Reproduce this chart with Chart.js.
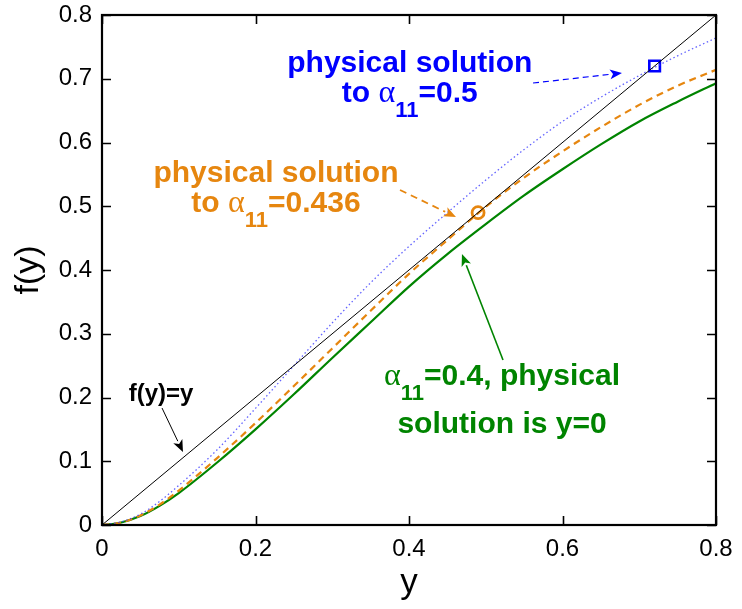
<!DOCTYPE html>
<html>
<head>
<meta charset="utf-8">
<script src="https://cdn.jsdelivr.net/npm/chart.js@4.4.0/dist/chart.umd.min.js"></script>
<style>
  html, body { margin: 0; padding: 0; background: #fff; }
  #wrap { width: 742px; height: 609px; }
</style>
</head>
<body>
<div id="wrap"><canvas id="chart" width="742" height="609"></canvas></div>
<script>
/* ── Data ───────────────────────────────────────────────────── */

const Y_GRID = [0, 0.025, 0.05, 0.075, 0.1, 0.15, 0.2, 0.25, 0.3, 0.35, 0.4, 0.45, 0.5, 0.55, 0.6, 0.65, 0.7, 0.75, 0.8];

/* alpha11 = 0.4 (green, solid) */
const F_A040  = [0, 0.004, 0.014, 0.030, 0.050, 0.098, 0.150, 0.205, 0.262, 0.318, 0.374, 0.425, 0.472, 0.517, 0.558, 0.597, 0.633, 0.664, 0.693];
/* alpha11 = 0.436 (orange, dashed) */
const F_A0436 = [0, 0.004, 0.015, 0.032, 0.054, 0.105, 0.160, 0.218, 0.277, 0.336, 0.394, 0.447, 0.499, 0.545, 0.586, 0.624, 0.659, 0.689, 0.714];
/* alpha11 = 0.5 (blue, dotted) */
const F_A050  = [0, 0.005, 0.017, 0.037, 0.062, 0.118, 0.183, 0.250, 0.317, 0.380, 0.437, 0.490, 0.541, 0.589, 0.633, 0.671, 0.705, 0.736, 0.764];

/* f(y) = y */
const DIAG_X = [0, 0.8];
const DIAG_F = [0, 0.8];

/* fixed points marked on the curves */
const ROOT_0436 = [0.49, 0.49];
const ROOT_050  = [0.72, 0.72];

const X_TICK_LABELS = ['0', '0.2', '0.4', '0.6', '0.8'];
const Y_TICK_LABELS = ['0', '0.1', '0.2', '0.3', '0.4', '0.5', '0.6', '0.7', '0.8'];

/* ── Colours / fonts ────────────────────────────────────────── */
const BLUE   = '#0000ff';
const ORANGE = '#e6860f';
const GREEN  = '#008400';
const SANS   = "'Liberation Sans', Arial, Helvetica, sans-serif";
const SERIF  = "'Liberation Serif', 'Times New Roman', serif";

const pts = (xs, ys) => xs.map((x, i) => ({ x, y: ys[i] }));

/* ── Annotations (data coordinates) ─────────────────────────── */
const NOTES = [
  { color: BLUE,   x: 0.401, lines: [
      { y: 0.7106, parts: [['physical solution', 'b']] },
      { y: 0.6635, parts: [['to ', 'b'], ['\u03b1', 'g'], ['11', 's'], ['=0.5', 'b']] } ] },
  { color: ORANGE, x: 0.2267, lines: [
      { y: 0.538, parts: [['physical solution', 'b']] },
      { y: 0.491, parts: [['to ', 'b'], ['\u03b1', 'g'], ['11', 's'], ['=0.436', 'b']] } ] },
  { color: GREEN,  x: 0.5212, lines: [
      { y: 0.2196, parts: [['\u03b1', 'g'], ['11', 's'], ['=0.4, physical', 'b']] },
      { y: 0.1443, parts: [['solution is y=0', 'b']] } ] },
  { color: '#000', x: 0.0769, lines: [
      { y: 0.1945, parts: [['f(y)=y', 'm']] } ] },
];

const ARROWS = [
  { color: BLUE,   from: [0.5616, 0.6933], to: [0.6775, 0.709], dash: [6, 4], width: 1.2 },
  { color: ORANGE, from: [0.3883, 0.5255], to: [0.4612, 0.4831], dash: [7, 5], width: 1.8 },
  { color: '#000', from: [0.0782, 0.1835], to: [0.1055, 0.1145], dash: [], width: 1 },
  { color: GREEN,  from: [0.5225, 0.2588], to: [0.469, 0.425], dash: [], width: 1.6 },
];

const FONTS = {
  b: { font: `bold 30px ${SANS}`, dy: 0 },
  g: { font: `32px ${SERIF}`, dy: 0 },
  s: { font: `bold 22px ${SANS}`, dy: 15 },
  m: { font: `bold 24px ${SANS}`, dy: 0 },
};

function drawArrow(ctx, x0, y0, x1, y1, a) {
  const ang = Math.atan2(y1 - y0, x1 - x0);
  const head = 12, half = 5;
  const bx = x1 - head * Math.cos(ang), by = y1 - head * Math.sin(ang);
  ctx.save();
  ctx.strokeStyle = a.color;
  ctx.fillStyle = a.color;
  ctx.lineWidth = a.width;
  ctx.setLineDash(a.dash);
  ctx.beginPath();
  ctx.moveTo(x0, y0);
  ctx.lineTo(bx, by);
  ctx.stroke();
  ctx.setLineDash([]);
  ctx.beginPath();
  ctx.moveTo(x1, y1);
  ctx.lineTo(bx + half * Math.sin(ang), by - half * Math.cos(ang));
  ctx.lineTo(x1 - (head - 3) * Math.cos(ang), y1 - (head - 3) * Math.sin(ang));
  ctx.lineTo(bx - half * Math.sin(ang), by + half * Math.cos(ang));
  ctx.closePath();
  ctx.fill();
  ctx.restore();
}

/* ── Frame, inward ticks and annotations ────────────────────── */
const framePlugin = {
  id: 'frame',
  afterDatasetsDraw(chart) {
    const { ctx, chartArea: a, scales: { x, y } } = chart;
    ctx.save();
    ctx.strokeStyle = '#000';
    ctx.lineWidth = 1.6;
    const tl = 9;
    x.ticks.forEach(t => {
      const px = Math.round(x.getPixelForValue(t.value)) + 0.5;
      ctx.beginPath();
      ctx.moveTo(px, a.bottom); ctx.lineTo(px, a.bottom - tl);
      ctx.moveTo(px, a.top);    ctx.lineTo(px, a.top + tl);
      ctx.stroke();
    });
    y.ticks.forEach(t => {
      const py = Math.round(y.getPixelForValue(t.value)) + 0.5;
      ctx.beginPath();
      ctx.moveTo(a.left, py);  ctx.lineTo(a.left + tl, py);
      ctx.moveTo(a.right, py); ctx.lineTo(a.right - tl, py);
      ctx.stroke();
    });
    ctx.lineWidth = 2.2;
    ctx.strokeRect(a.left, a.top, a.right - a.left, a.bottom - a.top);

    ARROWS.forEach(ar => drawArrow(ctx,
      x.getPixelForValue(ar.from[0]), y.getPixelForValue(ar.from[1]),
      x.getPixelForValue(ar.to[0]),   y.getPixelForValue(ar.to[1]), ar));

    ctx.textAlign = 'left';
    ctx.textBaseline = 'alphabetic';
    NOTES.forEach(n => {
      ctx.fillStyle = n.color;
      const cx = x.getPixelForValue(n.x);
      n.lines.forEach(line => {
        const by = y.getPixelForValue(line.y);
        let w = 0;
        line.parts.forEach(([txt, k]) => { ctx.font = FONTS[k].font; w += ctx.measureText(txt).width; });
        let px = cx - w / 2;
        line.parts.forEach(([txt, k]) => {
          ctx.font = FONTS[k].font;
          ctx.fillText(txt, px, by + FONTS[k].dy);
          px += ctx.measureText(txt).width;
        });
      });
    });
    ctx.restore();
  },
};

/* ── Chart ──────────────────────────────────────────────────── */
new Chart(document.getElementById('chart').getContext('2d'), {
  type: 'line',
  data: {
    datasets: [
      { data: pts(DIAG_X, DIAG_F), borderColor: '#000', borderWidth: 1, pointRadius: 0 },
      { data: pts(Y_GRID, F_A050), borderColor: 'rgba(60,60,255,0.8)', borderWidth: 1.3,
        borderDash: [1.5, 2.6], pointRadius: 0, cubicInterpolationMode: 'monotone' },
      { data: pts(Y_GRID, F_A0436), borderColor: ORANGE, borderWidth: 2.2,
        borderDash: [7, 5], pointRadius: 0, cubicInterpolationMode: 'monotone' },
      { data: pts(Y_GRID, F_A040), borderColor: GREEN, borderWidth: 2.2,
        pointRadius: 0, cubicInterpolationMode: 'monotone' },
      { data: [{ x: ROOT_0436[0], y: ROOT_0436[1] }], showLine: false, pointStyle: 'circle',
        pointRadius: 6, pointBorderWidth: 2.8, pointBorderColor: ORANGE, pointBackgroundColor: '#fff' },
      { data: [{ x: ROOT_050[0], y: ROOT_050[1] }], showLine: false, pointStyle: 'rect',
        pointRadius: 7.5, pointBorderWidth: 2.6, pointBorderColor: BLUE, pointBackgroundColor: '#fff' },
    ],
  },
  options: {
    responsive: false,
    animation: false,
    devicePixelRatio: 1,
    layout: { padding: { left: 0, right: 26, top: 15, bottom: 0 } },
    plugins: { legend: { display: false }, tooltip: { enabled: false } },
    elements: { line: { fill: false, tension: 0 } },
    scales: {
      x: {
        type: 'linear', min: 0, max: 0.8,
        grid: { display: false, drawTicks: false },
        border: { display: false },
        ticks: { stepSize: 0.2, padding: 10, color: '#000', maxRotation: 0,
                 font: { family: SANS, size: 24 },
                 callback: (v, i) => X_TICK_LABELS[i] },
        title: { display: true, text: 'y', color: '#000', font: { family: SANS, size: 35 },
                 padding: { top: 0, bottom: 5 } },
        afterFit: s => { s.height = 84; s.paddingLeft = s.paddingRight = 0; },
      },
      y: {
        type: 'linear', min: 0, max: 0.8,
        grid: { display: false, drawTicks: false },
        border: { display: false },
        ticks: { stepSize: 0.1, padding: 10, color: '#000',
                 font: { family: SANS, size: 24 },
                 callback: (v, i) => Y_TICK_LABELS[i] },
        title: { display: true, text: 'f(y)', color: '#000', font: { family: SANS, size: 34 },
                 padding: { top: 8, bottom: 0 } },
        afterFit: s => { s.width = 102; s.paddingTop = s.paddingBottom = 0; },
      },
    },
  },
  plugins: [framePlugin],
});
</script>
</body>
</html>
